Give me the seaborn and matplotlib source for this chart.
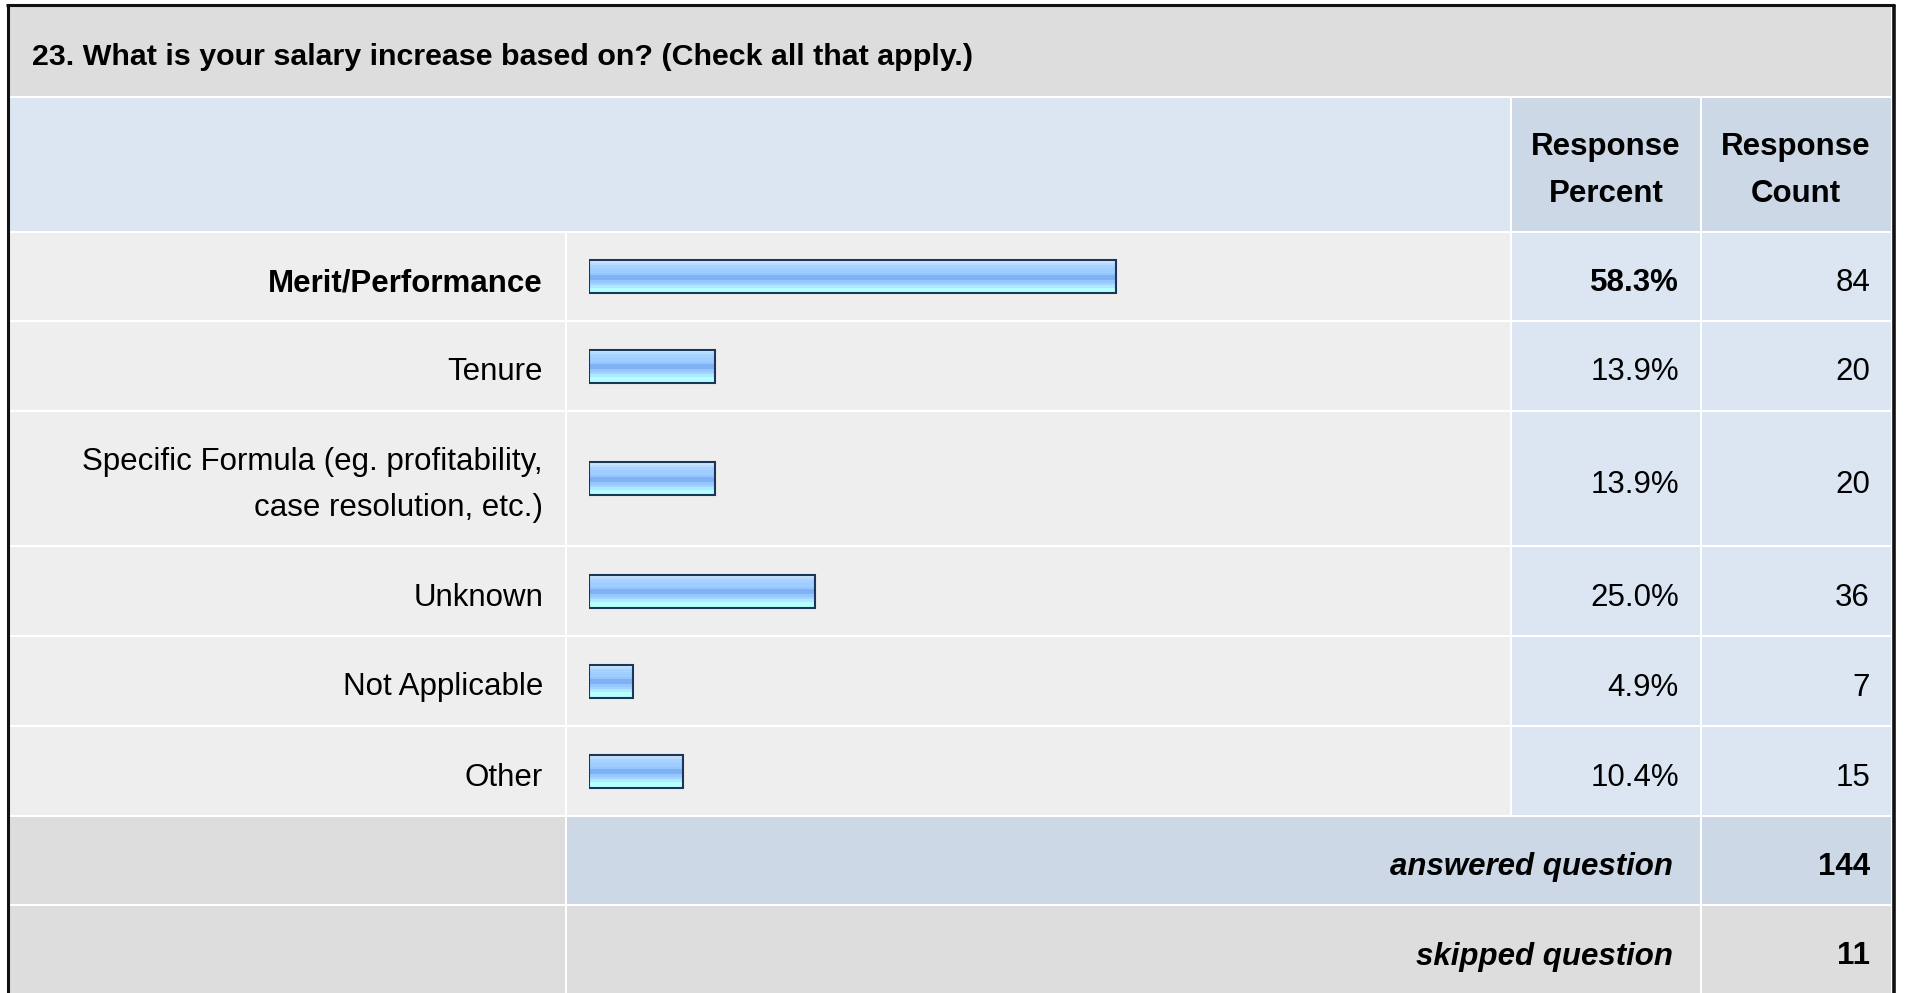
import numpy as np
import matplotlib
matplotlib.use("Agg")
import matplotlib.pyplot as plt
from matplotlib.patches import Rectangle
from matplotlib.colors import to_rgb
import seaborn as sns
import pandas as pd

# survey data
question = "23. What is your salary increase based on? (Check all that apply.)"
answers = ["Merit/Performance", "Tenure",
           "Specific Formula (eg. profitability,\ncase resolution, etc.)",
           "Unknown", "Not Applicable", "Other"]
percent = [58.3, 13.9, 13.9, 25.0, 4.9, 10.4]
counts = [84, 20, 20, 36, 7, 15]
answered = 144
skipped = 11

# page layout in pixels (1907 x 993)
W, H = 1907, 993
row_top = [233, 322, 412, 547, 637, 727]
row_bot = [320, 410, 545, 635, 725, 815]
row_mid = [(a + b) / 2 for a, b in zip(row_top, row_bot)]
col_lab = (10, 565)
col_bar = (567, 1510)
col_pct = (1512, 1700)
col_cnt = (1702, 1891)

GREY = "#DDDDDD"
ROW = "#EEEEEE"
BLUE = "#DCE6F3"
BLUE2 = "#CCD8E6"
fs = 22.5
fs_title = 21.9

sns.set_style("white")
plt.rcParams['font.family'] = ['Liberation Sans', 'DejaVu Sans']
plt.rcParams['text.color'] = 'black'

fig = plt.figure(figsize=(W / 100, H / 100), dpi=100)
bg = fig.add_axes([0, 0, 1, 1])
bg.set_xlim(0, W)
bg.set_ylim(H, 0)
bg.axis('off')


def cell(x0, x1, y0, y1, c):
    bg.add_patch(Rectangle((x0, y0), x1 - x0, y1 - y0, facecolor=c, edgecolor='none', lw=0))


# title band + header
cell(col_lab[0], col_cnt[1], 7, 96, GREY)
cell(col_lab[0], col_bar[1], 98, 231, BLUE)
cell(col_pct[0], col_pct[1], 98, 231, BLUE2)
cell(col_cnt[0], col_cnt[1], 98, 231, BLUE2)

# answer rows
for t, b in zip(row_top, row_bot):
    cell(col_lab[0], col_lab[1], t, b, ROW)
    cell(col_bar[0], col_bar[1], t, b, ROW)
    cell(col_pct[0], col_pct[1], t, b, BLUE)
    cell(col_cnt[0], col_cnt[1], t, b, BLUE)

# summary rows
cell(col_lab[0], col_lab[1], 817, 904, GREY)
cell(col_bar[0], col_pct[1], 817, 904, BLUE2)
cell(col_cnt[0], col_cnt[1], 817, 904, BLUE2)
cell(col_lab[0], col_lab[1], 906, H, GREY)
cell(col_bar[0], col_pct[1], 906, H, GREY)
cell(col_cnt[0], col_cnt[1], 906, H, GREY)

# outer frame
bg.plot([7.5, 7.5], [H, 5], color='#111111', lw=2.2, solid_capstyle='butt')
bg.plot([6, 1895], [5, 5], color='#111111', lw=2.2, solid_capstyle='butt')
bg.plot([1893.5, 1893.5], [5, H], color='#111111', lw=2.6, solid_capstyle='butt')

# texts
bg.text(32, 65, question, fontsize=fs_title, fontweight='bold', ha='left', va='baseline')
for x, l1, l2 in [(1606, "Response", "Percent"), (1796, "Response", "Count")]:
    bg.text(x, 154.5, l1, fontsize=fs, fontweight='bold', ha='center', va='baseline')
    bg.text(x, 201.5, l2, fontsize=fs, fontweight='bold', ha='center', va='baseline')

top = int(np.argmax(percent))
for i, (lab, p, c, m) in enumerate(zip(answers, percent, counts, row_mid)):
    wt = 'bold' if i == top else 'normal'
    lines = lab.split("\n")
    base = m + 14.5 - 23 * (len(lines) - 1)
    for k, ln in enumerate(lines):
        bg.text(543, base + 46 * k, ln, fontsize=fs, fontweight=wt, ha='right', va='baseline')
    bg.text(1679, m + 14.5, f"{p:.1f}%", fontsize=fs, fontweight=wt, ha='right', va='baseline')
    bg.text(1870, m + 14.5, str(c), fontsize=fs, ha='right', va='baseline')

bg.text(1673, 875, "answered question", fontsize=fs, fontweight='bold', style='italic',
        ha='right', va='baseline')
bg.text(1870, 875, str(answered), fontsize=fs, fontweight='bold', ha='right', va='baseline')
bg.text(1673, 964.5, "skipped question", fontsize=fs, fontweight='bold', style='italic',
        ha='right', va='baseline')
bg.text(1870, 964.5, str(skipped), fontsize=fs, fontweight='bold', ha='right', va='baseline')

# bars
bx = fig.add_axes([589 / W, 0, 904 / W, 1])
df = pd.DataFrame({'pct': percent, 'mid': row_mid})
sns.barplot(data=df, x='pct', y='mid', orient='h', native_scale=True, errorbar=None,
            width=33 / 89.5, color='#9DCBFF', saturation=1,
            edgecolor='#1C365A', linewidth=1.5, ax=bx)

grad_cols = ['#CCE6FF', '#B8DCFF', '#A8D2FF', '#A0CEFF', '#9ECDFF', '#96C6FD',
             '#7EB2F4', '#7EB2F4', '#96C8FF', '#A2D4FF', '#AEEAFF', '#B6FFFF', '#B6FFFF']
grad = np.array([to_rgb(c) for c in grad_cols]).reshape(-1, 1, 3)
for bar in list(bx.patches):
    x0, y0 = bar.get_x(), bar.get_y()
    w, h = bar.get_width(), bar.get_height()
    im = bx.imshow(grad, extent=(x0, x0 + w, y0 + h, y0), aspect='auto',
                   interpolation='nearest', zorder=1)
    im.set_clip_path(bar)
    bar.set_facecolor('none')
    bar.set_zorder(2)

bx.set_xlim(0, 100)
bx.set_ylim(H, 0)
bx.patch.set_alpha(0)
bx.axis('off')

fig.savefig('out.png', dpi=100, facecolor='white')
